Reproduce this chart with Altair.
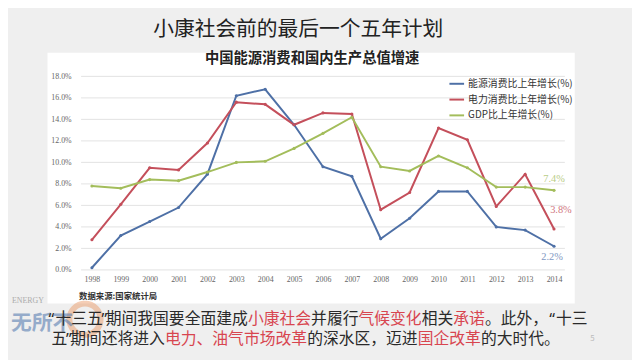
import altair as alt
import pandas as pd

years = [str(y) for y in range(1998, 2015)]
energy = [0.2, 3.2, 4.5, 5.8, 8.9, 16.2, 16.8, 13.5, 9.6, 8.7, 2.9, 4.8, 7.3, 7.3, 4.0, 3.7, 2.2]
power = [2.8, 6.1, 9.5, 9.3, 11.8, 15.6, 15.4, 13.5, 14.6, 14.5, 5.6, 7.2, 13.2, 12.1, 5.9, 8.9, 3.8]
gdp = [7.8, 7.6, 8.4, 8.3, 9.1, 10.0, 10.1, 11.3, 12.7, 14.2, 9.6, 9.2, 10.6, 9.5, 7.7, 7.7, 7.4]
series_names = ["能源消费比上年增长(%)", "电力消费比上年增长(%)", "GDP比上年增长(%)"]
series_colors = ["#4e70a6", "#c44f5b", "#a3bd5b"]
label_colors = ["#7f98c2", "#d07680", "#b9cd85"]
end_labels = ["2.2%", "3.8%", "7.4%"]
grid_values = list(range(0, 19, 2))

page_title = "小康社会前的最后一个五年计划"
chart_title = "中国能源消费和国内生产总值增速"
source_text = "数据来源:国家统计局"
BLACK = "#2a2a2a"
RED = "#d8454f"
line1 = [("“十三五”期间我国要全面建成", BLACK), ("小康社会", RED), ("并履行", BLACK),
         ("气候变化", RED), ("相关", BLACK), ("承诺", RED), ("。此外，“十三", BLACK)]
line2 = [("五”期间还将进入", BLACK), ("电力、油气市场改革", RED), ("的深水区，迈进", BLACK),
         ("国企改革", RED), ("的大时代。", BLACK)]

W, H = 490, 196
FONT = "Noto Sans CJK SC"
SERIF = "Liberation Serif"

rows = []
for name, vals in zip(series_names, [energy, power, gdp]):
    for y, v in zip(years, vals):
        rows.append({"year": y, "value": v, "series": name})
df = pd.DataFrame(rows)

end_df = pd.DataFrame({
    "year": [years[-1]] * 3,
    "value": [energy[-1], power[-1], gdp[-1]],
    "label": end_labels,
})
end_dx = [-2, 7, 0]
end_dy = [11, -19, -11]

FS = 16.0
QUOTE_W = {"“": 8.0, "”": 3.0}

xenc = alt.X("year:O", scale=alt.Scale(type="point", padding=0.375),
             axis=alt.Axis(title=None, labelAngle=0, ticks=False, domain=False, grid=False, zindex=1,
                           labelFont=SERIF, labelFontSize=8, labelColor="#666", labelPadding=6))
yscale = alt.Scale(domain=[0, 18], nice=False)
yenc = alt.Y("value:Q", scale=yscale,
             axis=alt.Axis(title=None, values=grid_values, ticks=False, domain=False,
                           grid=False, zindex=1, labelOverlap=False,
                           labelExpr="format(datum.value, '.1f') + '%'",
                           labelFont=SERIF, labelFontSize=8, labelColor="#666", labelPadding=10))

panel = alt.Chart(pd.DataFrame({"a": [0]})).mark_rect(color="white").encode(
    x=alt.value(-34), x2=alt.value(500), y=alt.value(-24), y2=alt.value(230))

grid = alt.Chart(pd.DataFrame({"value": grid_values})).mark_rule(color="#e3e3e3", strokeWidth=1).encode(
    y=yenc)

lines = alt.Chart(df).mark_line(strokeWidth=2, point=alt.OverlayMarkDef(size=10, filled=True)).encode(
    x=xenc, y=yenc,
    color=alt.Color("series:N", scale=alt.Scale(domain=series_names, range=series_colors),
                    sort=series_names,
                    legend=alt.Legend(title=None, orient="none", legendX=372, legendY=-1,
                                      symbolType="stroke", symbolStrokeWidth=2, symbolSize=220,
                                      labelFont=FONT, labelFontSize=10, labelColor="#333",
                                      rowPadding=2, labelOffset=3)))

ends_layers = []
for i in range(3):
    ends_layers.append(
        alt.Chart(end_df.iloc[[i]]).mark_text(font=SERIF, fontSize=10.5, align="center",
                                              dx=end_dx[i], dy=end_dy[i],
                                              color=label_colors[i]).encode(
            x=xenc, y=yenc, text="label:N"))

def txt(s, x, y, size, color, weight="normal", align="center", font=FONT, opacity=1.0):
    return alt.Chart(pd.DataFrame({"t": [s]})).mark_text(
        font=font, fontSize=size, color=color, fontWeight=weight, align=align,
        baseline="middle", opacity=opacity).encode(
        text="t:N", x=alt.value(x), y=alt.value(y))

title1 = txt(page_title, 220, -47, 21, "#222")
title2 = txt(chart_title, 234, -18, 14.5, "#222", weight="bold")
source = txt(source_text, -2, 222, 8.5, "#333", weight="bold", align="left")

logo_circle = alt.Chart(pd.DataFrame({"a": [0]})).mark_point(
    shape="circle", size=1000, stroke="#e8874a", strokeWidth=6, opacity=0.4, filled=False).encode(
    x=alt.value(4), y=alt.value(246))
logo_text = txt("无所不", -71, 251, 21, "#5a7fb2", weight="bold", align="left", opacity=0.6)
logo_energy = txt("ENERGY", -70, 228, 8, "#999", align="left", font=SERIF, opacity=0.8)
page_no = txt("5", 518, 266, 8, "#bbb")

# rich text: CJK runs in the CJK font, curly quotes as narrow Latin glyphs
body_layers = []
for segs, x0, y0 in [(line1, -34, 246), (line2, -30, 266.5)]:
    x = x0
    for t, col in segs:
        run = ""
        for ch in t + "\0":
            if ch in "“”\0":
                if run:
                    body_layers.append(txt(run, x, y0, FS, col, align="left"))
                    x += FS * len(run)
                    run = ""
                if ch != "\0":
                    qw = QUOTE_W[ch]
                    body_layers.append(txt(ch, x + qw / 2, y0 + 1, FS, col, font="Noto Sans"))
                    x += qw
            else:
                run += ch

chart = alt.layer(panel, grid, lines, *ends_layers, title1, title2, source,
                  logo_circle, logo_text, logo_energy, *body_layers, page_no).properties(
    width=W, height=H,
    autosize=alt.AutoSizeParams(type="none"),
    padding={"left": 74, "top": 67, "right": 68, "bottom": 89},
    background="#efefef",
).configure_view(stroke=None)

chart.save("out.html", embed_options={"renderer": "svg", "actions": False})
